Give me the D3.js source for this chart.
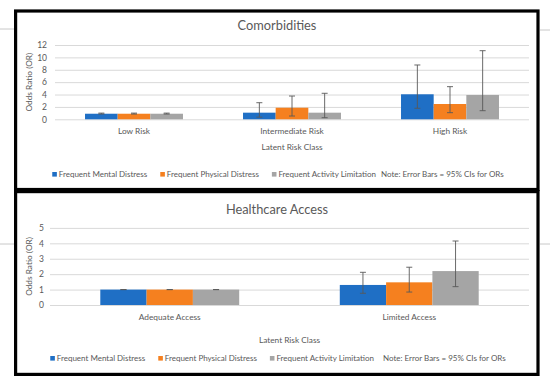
<!DOCTYPE html>
<html lang="en">
<head>
<meta charset="UTF-8">
<title>Comorbidities and Healthcare Access</title>
<script src="https://d3js.org/d3.v7.min.js"></script>
<style>
body { margin: 0; background: #fff; }
text { font-family: Lato, "Open Sans", sans-serif; fill: #595959; }
.grid line { stroke: #d9d9d9; stroke-width: 1; }
.grid .domain { display: none; }
.xax .domain { display: none; }
</style>
</head>
<body>
<div id="chart"></div>
<script>
// series shared by both panels
const seriesNames = ["Frequent Mental Distress", "Frequent Physical Distress", "Frequent Activity Limitation"];
const seriesColors = ["#1f6fc5", "#f5801f", "#a5a5a5"];
const noteText = "Note: Error Bars = 95% CIs for ORs";

// panel 1: comorbidities
const riskClasses = ["Low Risk", "Intermediate Risk", "High Risk"];
const comorbTicks = [0, 2, 4, 6, 8, 10, 12];
const comorbMental   = [0.9, 1.07, 4.04];
const comorbPhysical = [0.9, 1.87, 2.47];
const comorbActivity = [0.9, 1.07, 3.93];
const comorbLow  = [[0.85, 0.35, 1.78], [0.85, 0.53, 1.07], [0.85, 0.26, 1.39]];
const comorbHigh = [[1.0, 2.68, 8.77], [1.0, 3.76, 5.27], [1.0, 4.2, 11.08]];

// panel 2: healthcare access
const accessClasses = ["Adequate Access", "Limited Access"];
const accessTicks = [0, 1, 2, 3, 4, 5];
const accessMental   = [1.0, 1.3];
const accessPhysical = [1.0, 1.47];
const accessActivity = [1.0, 2.2];
const accessLow  = [[1.0, 0.76], [1.0, 0.84], [1.0, 1.19]];
const accessHigh = [[1.0, 2.12], [1.0, 2.45], [1.0, 4.15]];

const W = 550, H = 388;
const svg = d3.select("#chart").append("svg")
    .attr("width", W).attr("height", H);

// faint lines peeking out from behind the panels
[[0, 14, 29], [540, 550, 30], [0, 14, 244], [540, 550, 244]].forEach(l => {
    svg.append("line").attr("x1", l[0]).attr("x2", l[1]).attr("y1", l[2]).attr("y2", l[2])
        .attr("stroke", "#c8c8c8").attr("stroke-width", 1);
});

function drawPanel(opt) {
    const g = svg.append("g");

    g.append("rect")
        .attr("x", opt.box[0]).attr("y", opt.box[1])
        .attr("width", opt.box[2]).attr("height", opt.box[3])
        .attr("fill", "#fff").attr("stroke", "#000").attr("stroke-width", 3.2);

    g.append("text")
        .attr("x", 277).attr("y", opt.titleY)
        .attr("text-anchor", "middle").attr("dominant-baseline", "central")
        .style("font-size", "12.8px")
        .text(opt.title);

    const y = d3.scaleLinear().domain(d3.extent(opt.ticks)).range([opt.y0, opt.y1]);
    const x0 = d3.scaleBand().domain(opt.cats).range([opt.x0, opt.x1])
        .paddingInner(opt.pad).paddingOuter(opt.pad / 2);
    const x1 = d3.scaleBand().domain(d3.range(seriesNames.length)).range([0, x0.bandwidth()]);

    g.append("g").attr("class", "grid")
        .attr("transform", `translate(${opt.x0},0)`)
        .call(d3.axisLeft(y).tickValues(opt.ticks).tickFormat(d3.format("d"))
            .tickSize(-(opt.x1 - opt.x0)).tickPadding(opt.tickPad))
        .selectAll("text").style("font-size", "8.5px").attr("fill", "#595959");

    g.append("text")
        .attr("transform", `translate(29,${(opt.y0 + opt.y1) / 2}) rotate(-90)`)
        .attr("text-anchor", "middle").attr("dominant-baseline", "central")
        .style("font-size", "8.3px")
        .text("Odds Ratio (OR)");

    const rows = opt.cats.map((c, i) => ({
        cat: c,
        vals: opt.values.map((s, k) => ({ k, v: s[i], lo: opt.low[k][i], hi: opt.high[k][i] }))
    }));

    const grp = g.selectAll("g.cat").data(rows).join("g")
        .attr("class", "cat")
        .attr("transform", d => `translate(${x0(d.cat)},0)`);

    grp.selectAll("rect").data(d => d.vals).join("rect")
        .attr("x", d => x1(d.k))
        .attr("width", x1.bandwidth())
        .attr("y", d => y(d.v))
        .attr("height", d => y(0) - y(d.v))
        .attr("fill", d => seriesColors[d.k]);

    const err = grp.selectAll("g.err").data(d => d.vals).join("g")
        .attr("class", "err")
        .attr("transform", d => `translate(${x1(d.k) + x1.bandwidth() / 2},0)`)
        .attr("stroke", "#595959").attr("stroke-width", 0.9);
    err.append("line").attr("y1", d => y(d.lo)).attr("y2", d => y(d.hi));
    err.append("line").attr("x1", -3).attr("x2", 3).attr("y1", d => y(d.hi)).attr("y2", d => y(d.hi));
    err.append("line").attr("x1", -3).attr("x2", 3).attr("y1", d => y(d.lo)).attr("y2", d => y(d.lo));

    g.append("g").attr("class", "xax")
        .attr("transform", `translate(0,${opt.catY})`)
        .call(d3.axisBottom(x0).tickSize(0).tickPadding(0))
        .selectAll("text").style("font-size", "8.3px").attr("fill", "#595959")
        .attr("dy", "0.35em");

    g.append("text")
        .attr("x", (opt.x0 + opt.x1) / 2).attr("y", opt.axisTitleY)
        .attr("text-anchor", "middle").attr("dominant-baseline", "central")
        .style("font-size", "8.3px")
        .text("Latent Risk Class");

    // legend, centred in the panel
    const leg = g.append("g");
    const items = seriesNames.map((n, k) => ({ n, c: seriesColors[k] })).concat([{ n: noteText, c: null }]);
    let xx = 0;
    items.forEach((it, i) => {
        if (it.c) {
            leg.append("rect").attr("x", xx).attr("y", -2.3).attr("width", 4.6).attr("height", 4.6).attr("fill", it.c);
            xx += 6.5;
        }
        const t = leg.append("text").attr("x", xx).attr("dominant-baseline", "central")
            .style("font-size", "8px").text(it.n);
        xx += t.node().getComputedTextLength() + (i === 2 ? opt.noteGap : 13);
    });
    const total = xx - 13;
    leg.attr("transform", `translate(${278 - total / 2},${opt.legY})`);
}

drawPanel({
    box: [15.6, 11, 522.4, 178.5], title: "Comorbidities", titleY: 25,
    cats: riskClasses, ticks: comorbTicks,
    values: [comorbMental, comorbPhysical, comorbActivity], low: comorbLow, high: comorbHigh,
    x0: 55, x1: 529, y0: 119.3, y1: 45, pad: 0.38, tickPad: 8,
    catY: 131.5, axisTitleY: 146.7, legY: 174.3, noteGap: 5
});

drawPanel({
    box: [15.6, 191.6, 522.4, 182.8], title: "Healthcare Access", titleY: 208.5,
    cats: accessClasses, ticks: accessTicks,
    values: [accessMental, accessPhysical, accessActivity], low: accessLow, high: accessHigh,
    x0: 50, x1: 529, y0: 305, y1: 227.9, pad: 0.42, tickPad: 6,
    catY: 316.7, axisTitleY: 339.5, legY: 358.3, noteGap: 9
});
</script>
</body>
</html>
